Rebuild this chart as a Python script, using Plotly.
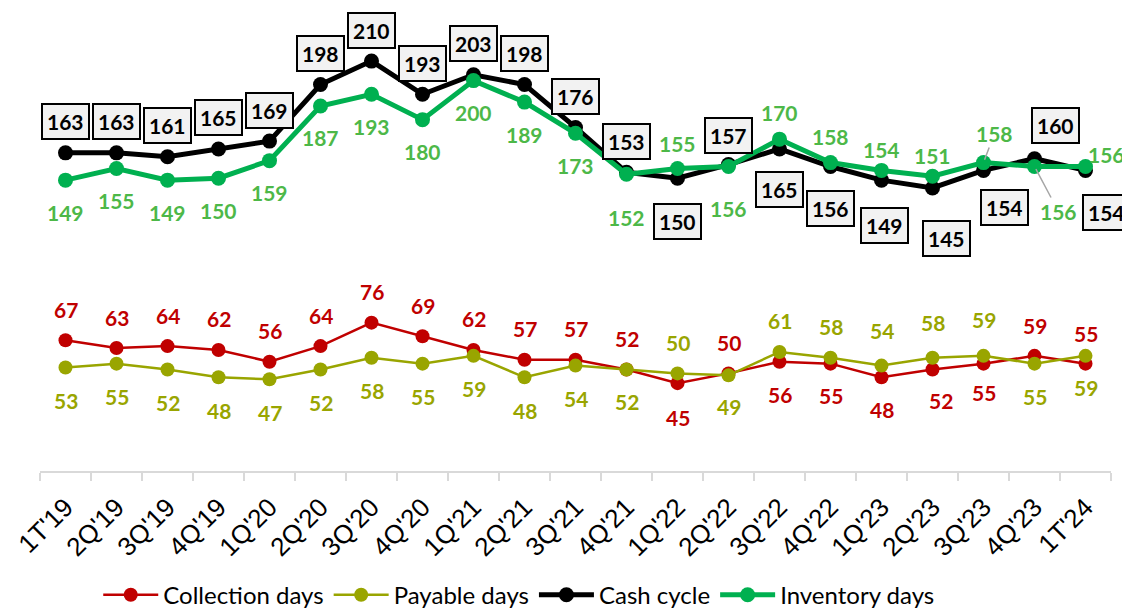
import plotly.graph_objects as go

quarters = ["1T'19", "2Q'19", "3Q'19", "4Q'19", "1Q'20", "2Q'20", "3Q'20", "4Q'20",
            "1Q'21", "2Q'21", "3Q'21", "4Q'21", "1Q'22", "2Q'22", "3Q'22", "4Q'22",
            "1Q'23", "2Q'23", "3Q'23", "4Q'23", "1T'24"]
collection_days = [67, 63, 64, 62, 56, 64, 76, 69, 62, 57, 57, 52, 45, 50, 56, 55, 48, 52, 55, 59, 55]
payable_days = [53, 55, 52, 48, 47, 52, 58, 55, 59, 48, 54, 52, 50, 49, 61, 58, 54, 58, 59, 55, 59]
cash_cycle = [163, 163, 161, 165, 169, 198, 210, 193, 203, 198, 176, 153, 150, 157, 165, 156, 149, 145, 154, 160, 154]
inventory_days = [149, 155, 149, 150, 159, 187, 193, 180, 200, 189, 173, 152, 155, 156, 170, 158, 154, 151, 158, 156, 156]

# label offsets in pixels (dx, dy; dy positive = downward)
coll_off = [(0, -31)] * 12 + [(0, 34), (0, -31), (0, 33), (0, 32), (0, 32), (8, 31), (0, 29), (0, -30), (0, -30)]
pay_off = [(0, 33)] * 12
pay_off[11] = (0, 32)
pay_off += [(0, -31), (0, 31), (0, -31), (0, -31), (0, -35), (0, -35), (0, -36), (0, 33), (0, 32)]
cash_off = [(0, -31)] * 12 + [(0, 43), (0, -29), (0, 41), (0, 42), (3, 45), (14, 51), (21, 37), (21, -33), (21, 42)]
inv_off = [(0, 32)] * 11 + [(0, 43), (0, -25), (0, 42), (0, -27), (0, -26), (0, -21), (0, -21), (11, -29), (24, 45), (21, -12)]
inv_leader = [False] * 18 + [True, True, False]

RED = "#C00000"
OLIVE = "#99A500"
GREEN = "#00B050"
GREEN_TXT = "#4DB848"
LABEL_FONT = "Lato"

fig = go.Figure()
fig.add_trace(go.Scatter(x=quarters, y=collection_days, name="Collection days", mode="lines+markers",
                         line=dict(color=RED, width=2.5), marker=dict(color=RED, size=14)))
fig.add_trace(go.Scatter(x=quarters, y=payable_days, name="Payable days", mode="lines+markers",
                         line=dict(color=OLIVE, width=2.5), marker=dict(color=OLIVE, size=14)))
fig.add_trace(go.Scatter(x=quarters, y=cash_cycle, name="Cash cycle", mode="lines+markers",
                         line=dict(color="black", width=5), marker=dict(color="black", size=15)))
fig.add_trace(go.Scatter(x=quarters, y=inventory_days, name="Inventory days", mode="lines+markers",
                         line=dict(color=GREEN, width=5), marker=dict(color=GREEN, size=15)))

ann = []
def add_labels(values, offsets, color, boxed=False, leaders=None):
    for i, (q, v) in enumerate(zip(quarters, values)):
        dx, dy = offsets[i]
        a = dict(x=q, y=v, text=str(v), font=dict(family=LABEL_FONT, size=21, color=color, weight="bold"))
        if leaders is not None and leaders[i]:
            a.update(showarrow=True, ax=dx, ay=dy, axref="pixel", ayref="pixel",
                     arrowhead=0, arrowwidth=1.5, arrowcolor="#A6A6A6", standoff=3)
        else:
            a.update(showarrow=False, xshift=dx, yshift=-dy)
        if boxed:
            a.update(bgcolor="#F2F2F2", bordercolor="black", borderwidth=2, borderpad=4)
        ann.append(a)

add_labels(collection_days, coll_off, RED)
add_labels(payable_days, pay_off, OLIVE)
add_labels(cash_cycle, cash_off, "black", boxed=True)
add_labels(inventory_days, inv_off, GREEN_TXT, leaders=inv_leader)

# the page body has an 8px default margin, so the figure is 8px smaller than the window
fig.update_layout(
    width=1122, height=600,
    margin=dict(l=32, r=19, t=0, b=137, autoexpand=False),
    paper_bgcolor="white", plot_bgcolor="white",
    showlegend=True,
    legend=dict(orientation="h", x=0.447, xanchor="center", y=-0.268, yanchor="middle",
                font=dict(family=LABEL_FONT, size=24, color="black"), itemwidth=55,
                traceorder="normal"),
    xaxis=dict(type="category", range=[-0.5, 20.5], showgrid=False, zeroline=False, automargin=False,
               showline=True, linecolor="#D9D9D9", linewidth=1.5,
               ticks="outside", tickson="boundaries", ticklen=8, tickcolor="#D9D9D9", tickwidth=1.5,
               tickangle=-45, ticklabelstandoff=9,
               tickfont=dict(family="Liberation Sans", size=26, color="black")),
    yaxis=dict(range=[0, 237.2], visible=False, showgrid=False, zeroline=False, automargin=False),
    annotations=ann,
)

fig.write_html("out.html")
